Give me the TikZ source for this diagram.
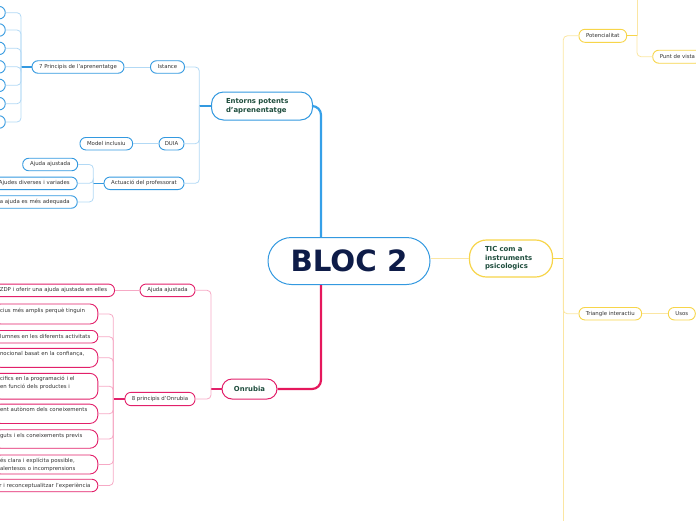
\documentclass[tikz,border=0pt]{standalone}
\usepackage{fontspec}
\setmainfont{DejaVu Sans}
\usetikzlibrary{calc}
\definecolor{blueB}{HTML}{3399E0}
\definecolor{blueL}{HTML}{B2D9F5}
\definecolor{blueT}{HTML}{36A0E8}
\definecolor{pinkB}{HTML}{E2206A}
\definecolor{pinkL}{HTML}{F6A9C5}
\definecolor{pinkT}{HTML}{E5175C}
\definecolor{yelB}{HTML}{F7D54A}
\definecolor{yelL}{HTML}{FBE6A2}
\definecolor{txt}{HTML}{333333}
\definecolor{mainT}{HTML}{1E4D3D}
\definecolor{blocT}{HTML}{0E1C48}
\begin{document}
\begin{tikzpicture}[x=1pt,y=-1pt,
  sn/.style={draw, rounded corners=6pt, line width=0.9pt, fill=white, text=txt, inner sep=0pt, minimum height=12.5pt, font=\fontsize{5.4}{8}\selectfont},
  bsn/.style={sn, draw=blueB},
  psn/.style={sn, draw=pinkB},
  ysn/.style={sn, draw=yelB},
  cutr/.style={anchor=east, align=right, inner xsep=7.5pt},
  cutl/.style={anchor=east, align=left, inner xsep=7.5pt, text width=90.3pt, rounded corners=8pt},
  mn/.style={draw, fill=white, line width=1pt, text=mainT, font=\fontsize{6.9}{9}\selectfont\bfseries, inner sep=0pt},
  bl/.style={draw=blueL, line width=0.8pt, rounded corners=4pt},
  bstub/.style={draw=blueB, line width=1.1pt},
  pl/.style={draw=pinkL, line width=0.8pt, rounded corners=4pt},
  pstub/.style={draw=pinkB, line width=1.1pt},
  yl/.style={draw=yelL, line width=0.8pt, rounded corners=4pt},
  ystub/.style={draw=yelB, line width=1.1pt},
  thb/.style={draw=blueT, line width=2.2pt, rounded corners=9pt},
  thp/.style={draw=pinkT, line width=2.2pt, rounded corners=9pt}
]
\useasboundingbox (0,0) rectangle (696,520);

% ---------- main nodes ----------
\node[draw=blueB, line width=1pt, fill=white, rounded corners=23.5pt, minimum width=162pt, minimum height=47pt, inner sep=0pt, text=blocT, font=\fontsize{29.3}{32}\selectfont\bfseries] (bloc) at (349,261) {BLOC 2};
\node[mn, draw=blueB, rounded corners=12pt, minimum width=101pt, minimum height=28pt, text width=72pt, align=left] (ent) at (262,106) {Entorns potents\\d'aprenentatge};
\node[mn, draw=pinkB, rounded corners=10pt, minimum width=55pt, minimum height=20pt] (onr) at (249.5,389) {Onrubia};
\node[mn, draw=yelB, line width=1.2pt, rounded corners=17pt, minimum width=83pt, minimum height=37pt, text width=52pt, align=left, font=\fontsize{6.9}{8.6}\selectfont\bfseries] (tic) at (511,258.5) {TIC com a\\instruments\\psicologics};

% ---------- blue branch ----------
\node[bsn, minimum width=34pt] (ist) at (167.5,67) {Istance};
\node[bsn, minimum width=92pt] (p7) at (78,67) {7 Principis de l'aprenentatge};
\node[bsn, anchor=east, minimum width=50pt] (l1) at (5.7,12.7) {};
\node[bsn, anchor=east, minimum width=50pt] (l2) at (5.7,30) {};
\node[bsn, anchor=east, minimum width=50pt] (l3) at (5.7,48.3) {};
\node[bsn, anchor=east, minimum width=50pt] (l4) at (5.7,66.8) {};
\node[bsn, anchor=east, minimum width=50pt] (l5) at (5.7,85.3) {};
\node[bsn, anchor=east, minimum width=50pt] (l6) at (5.7,103.7) {};
\node[bsn, anchor=east, minimum width=50pt] (l7) at (5.7,122) {};
\node[bsn, minimum width=25pt] (duia) at (171.5,143.7) {DUIA};
\node[bsn, minimum width=52.7pt] (model) at (106.3,143.7) {Model inclusiu};
\node[bsn, minimum width=80pt] (act) at (144,183.3) {Actuació del professorat};
\node[bsn, minimum width=55pt] (aj1) at (50.2,164.5) {Ajuda ajustada};
\node[bsn, cutr, text width=71pt] (ajd) at (77.7,183.3) {Ajudes diverses i variades};
\node[bsn, cutr, text width=71pt] (aaq) at (77.7,202) {a ajuda es més adequada};

\coordinate (ej) at (199.3,106);
\coordinate (p7j) at (21,67);
\coordinate (aj) at (93.3,183.3);
\coordinate (bt) at ($(bloc.north)+(-28,0)$);
\coordinate (bb) at ($(bloc.south)+(-28,0)$);

\draw[thb] (ent.east) -| (bt);
\draw[bstub] (ent.west) -- (ej);
\draw[bl] (ej) |- (ist.east);
\draw[bl] (ej) |- (duia.east);
\draw[bl] (ej) |- (act.east);
\draw[bl] (ist.west) -- (p7.east);
\draw[bstub] (p7.west) -- (p7j);
\foreach \n in {l1,l2,l3,l4,l5,l6,l7} \draw[bl] (p7j) |- (\n.east);
\draw[bl] (duia.west) -- (model.east);
\draw[bstub] (act.west) -- (aj);
\draw[bl] (aj) |- (aj1.east);
\draw[bl] (aj) |- (ajd.east);
\draw[bl] (aj) |- (aaq.east);

% ---------- pink branch ----------
\node[psn, minimum width=55pt] (aj2) at (167.5,290.3) {Ajuda ajustada};
\node[psn, cutr, text width=108pt] (zdp) at (115,290.3) {ZDP i oferir una ajuda ajustada en elles};
\node[psn, minimum width=70pt, minimum height=13.3pt] (p8) at (160,399) {8 principis d'Onrubia};
\node[psn, cutl, minimum height=20pt] (c1) at (98.3,314) {cius més amplis perquè tinguin\\\mbox{}};
\node[psn, cutr, text width=91pt] (c2) at (98.3,336.7) {lumnes en les diferents activitats};
\node[psn, cutl, minimum height=19pt] (c3) at (98.3,357.8) {nocional basat en la confiança,\\\mbox{}};
\node[psn, cutl, minimum height=25.7pt] (c4) at (98.3,386.2) {cifics en la programació i el\\en funció dels productes i\\\mbox{}};
\node[psn, cutl, minimum height=19.3pt] (c5) at (98.3,413.8) {ent autònom dels coneixements\\\mbox{}};
\node[psn, cutl, minimum height=18.5pt] (c6) at (98.3,439) {guts i els coneixements previs\\\mbox{}};
\node[psn, cutl, minimum height=19pt] (c7) at (98.3,464.5) {és clara i explícita possible,\\alentesos o incomprensions};
\node[psn, cutr, text width=91pt] (c8) at (98.3,485.5) {r i reconceptualitzar l'experiència};

\coordinate (oj) at (211,389);
\coordinate (p8j) at (113.3,399);

\draw[thp] (bb) |- (onr.east);
\draw[pstub] (onr.west) -- (oj);
\draw[pl] (oj) |- (aj2.east);
\draw[pl] (oj) |- (p8.east);
\draw[pl] (aj2.west) -- (zdp.east);
\draw[pstub] (p8.west) -- (p8j);
\foreach \n in {c1,c2,c3,c4,c5,c6,c7,c8} \draw[pl] (p8j) |- (\n.east);

% ---------- yellow branch ----------
\node[ysn, minimum width=47.7pt, minimum height=13pt] (pot) at (602.8,35.8) {Potencialitat};
\node[ysn, anchor=west, inner xsep=7pt, minimum height=13pt] (pdv) at (652.3,56.7) {Punt de vista};
\node[ysn, minimum width=62.7pt] (tri) at (610.3,313.7) {Triangle interactiu};
\node[ysn, minimum width=27pt] (usos) at (681.8,313.7) {Usos};

\coordinate (tj) at (563.3,258.5);
\coordinate (tend) at (563.3,530);
\coordinate (pj) at (637,35.8);
\coordinate (ptop) at (637,-10);

\draw[yl] (bloc.east |- tic.west) -- (tic.west);
\draw[ystub] (tic.east) -- (tj);
\draw[yl] (tj) |- (pot.west);
\draw[yl] (tj) |- (tri.west);
\draw[yl] (tj) -- (tend);
\draw[ystub] (pot.east) -- (pj);
\draw[yl] (pj) |- (pdv.west);
\draw[yl] (pj) -- (ptop);
\draw[yl] (tri.east) -- (usos.west);
\end{tikzpicture}
\end{document}
